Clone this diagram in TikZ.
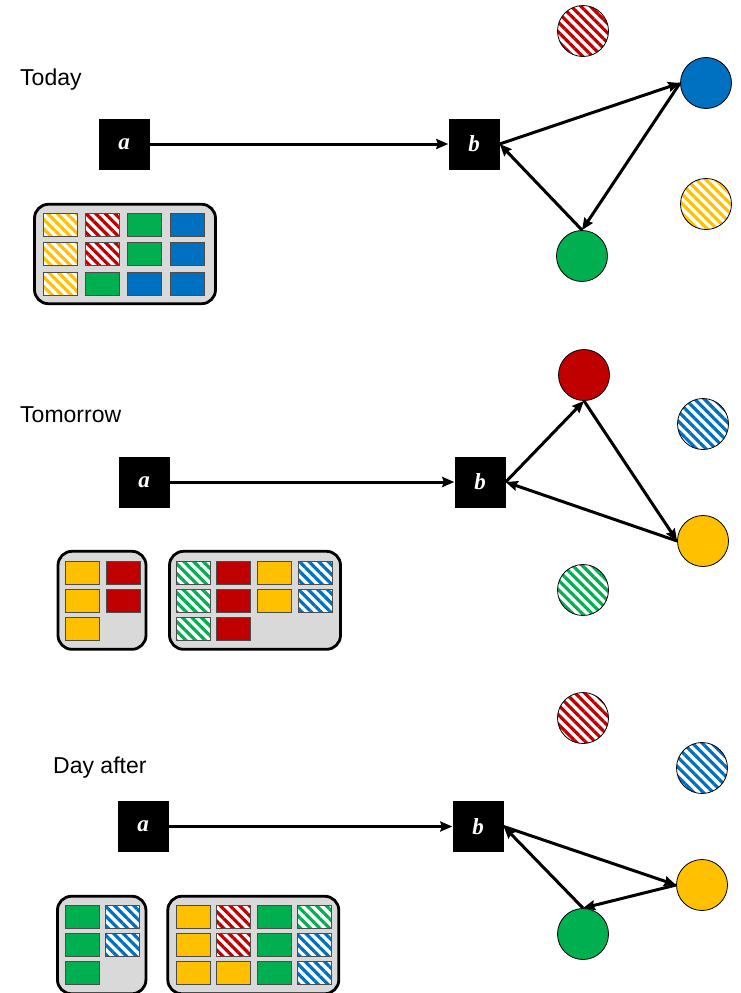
\documentclass[tikz,border=0pt]{standalone}
\usepackage{fontspec}
\setmainfont{Liberation Sans}
\newfontfamily\keyfont{Liberation Serif}
\usetikzlibrary{arrows.meta,patterns.meta}

\definecolor{cY}{HTML}{FFC000}
\definecolor{cR}{HTML}{C00000}
\definecolor{cG}{HTML}{00B050}
\definecolor{cB}{HTML}{0070C0}
\definecolor{boxgray}{HTML}{D9D9D9}

\tikzset{
  key/.style={fill=black, minimum size=51pt, inner sep=0pt, text=white,
    font=\keyfont\bfseries\itshape\fontsize{23}{23}\selectfont},
  day/.style={anchor=base west, inner sep=0pt, font=\fontsize{23}{23}\selectfont},
  conn/.style={line width=3pt, -{Stealth[length=12pt,width=10pt,inset=1.5pt]}},
  dot/.style={circle, draw=black, line width=0.8pt, minimum size=51pt, inner sep=0pt},
  grp/.style={draw=black, line width=2.8pt, fill=boxgray, rounded corners=14pt, inner sep=0pt},
  cell/.style={draw=black!70, line width=0.8pt, minimum width=34pt, minimum height=23pt, inner sep=0pt},
  hatch/.style={preaction={fill=white},
    pattern={Lines[angle=-45,distance=6.8pt,line width=3.2pt]}, pattern color=#1},
  sY/.style={fill=cY}, sR/.style={fill=cR}, sG/.style={fill=cG}, sB/.style={fill=cB},
  hY/.style={hatch=cY}, hR/.style={hatch=cR}, hG/.style={hatch=cG}, hB/.style={hatch=cB},
}

\begin{document}
\begin{tikzpicture}[x=1pt, y=-1pt]
\useasboundingbox (0,0) rectangle (740,993);

% ---------- Today ----------
\node[day] (today) at (20,85.7) {Today};
\node[key] (a1) at (124,144) {a};
\node[key] (b1) at (474,144) {b};
\node[dot, hR] (r1) at (583,31) {};
\node[dot, fill=cB] (u1) at (706,83) {};
\node[dot, hY] (y1) at (706,204) {};
\node[dot, fill=cG] (g1) at (582,256) {};
\draw[conn] (a1.east) -- (b1.west);
\draw[conn] (b1.east) -- (u1.west);
\draw[conn] (u1.west) -- (g1.north);
\draw[conn] (g1.north) -- (b1.east);

\node[grp, minimum width=181pt, minimum height=99.5pt] (box1) at (125,254) {};
\foreach \x/\y/\s [count=\n] in {
  60/225/hY, 102.5/225/hR, 144.8/225/sG, 187/225/sB,
  60/254/hY, 102.5/254/hR, 144.8/254/sG, 187/254/sB,
  60/283.5/hY, 102.5/283.5/sG, 144.8/283.5/sB, 187/283.5/sB}
  \node[cell, \s] (t\n) at (\x,\y) {};

% ---------- Tomorrow ----------
\node[day] (tomorrow) at (20,422) {Tomorrow};
\node[key] (a2) at (144,482) {a};
\node[key] (b2) at (480,482) {b};
\node[dot, fill=cR] (r2) at (584,375) {};
\node[dot, hB] (u2) at (703,424) {};
\node[dot, fill=cY] (y2) at (703,541) {};
\node[dot, hG] (g2) at (583,590) {};
\draw[conn] (a2.east) -- (b2.west);
\draw[conn] (b2.east) -- (r2.south);
\draw[conn] (r2.south) -- (y2.west);
\draw[conn] (y2.west) -- (b2.east);

\node[grp, minimum width=88pt, minimum height=98pt] (box2a) at (102,600.3) {};
\node[grp, minimum width=171pt, minimum height=98pt] (box2b) at (255,600.3) {};
\foreach \x/\y/\s [count=\n] in {
  82.7/572.7/sY, 123.3/572.7/sR,
  82.7/600.7/sY, 123.3/600.7/sR,
  82.7/628.7/sY}
  \node[cell, \s] (m\n) at (\x,\y) {};
\foreach \x/\y/\s [count=\n] in {
  193.7/572.7/hG, 233.7/572.7/sR, 274.7/572.7/sY, 315.3/572.7/hB,
  193.7/600.7/hG, 233.7/600.7/sR, 274.7/600.7/sY, 315.3/600.7/hB,
  193.7/628.7/hG, 233.7/628.7/sR}
  \node[cell, \s] (n\n) at (\x,\y) {};

% ---------- Day after ----------
\node[day] (dayafter) at (53,773.3) {Day after};
\node[key] (a3) at (143,826.5) {a};
\node[key] (b3) at (478,826.5) {b};
\node[dot, hR] (r3) at (583,718) {};
\node[dot, hB] (u3) at (702,768) {};
\node[dot, fill=cY] (y3) at (702,885) {};
\node[dot, fill=cG] (g3) at (583,934) {};
\draw[conn] (a3.east) -- (b3.west);
\draw[conn] (b3.east) -- (y3.west);
\draw[conn] (y3.west) -- (g3.north);
\draw[conn] (g3.north) -- (b3.east);

\node[grp, minimum width=88.5pt, minimum height=97.5pt] (box3a) at (101.7,945) {};
\node[grp, minimum width=171pt, minimum height=97.5pt] (box3b) at (253.3,945) {};
\foreach \x/\y/\s [count=\n] in {
  82/916.7/sG, 122/916.7/hB,
  82/944.7/sG, 122/944.7/hB,
  82/972.7/sG}
  \node[cell, \s] (d\n) at (\x,\y) {};
\foreach \x/\y/\s [count=\n] in {
  193/916.7/sY, 233/916.7/hR, 274/916.7/sG, 314.7/916.7/hG,
  193/944.7/sY, 233/944.7/hR, 274/944.7/sG, 314.7/944.7/hB,
  193/972.7/sY, 233/972.7/sY, 274/972.7/sG, 314.7/972.7/hB}
  \node[cell, \s] (e\n) at (\x,\y) {};
\end{tikzpicture}
\end{document}
